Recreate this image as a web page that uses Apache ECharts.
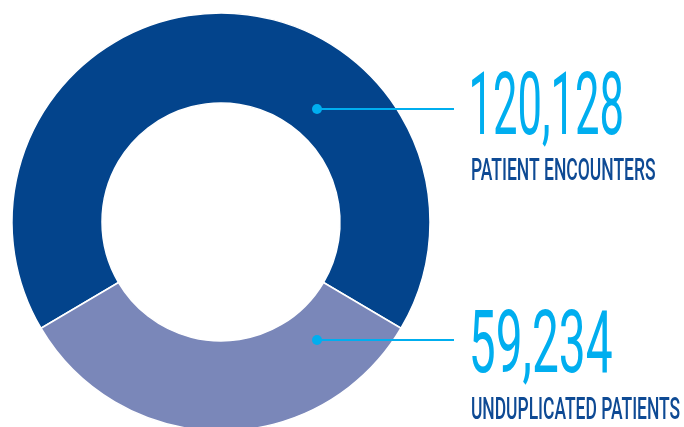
<!DOCTYPE html>
<html>
<head>
<meta charset="utf-8">
<script src="https://cdn.jsdelivr.net/npm/echarts@6/dist/echarts.min.js"></script>
<style>
html,body{margin:0;padding:0;background:#fff;}
#main{width:684px;height:427px;}
</style>
</head>
<body>
<div id="main"></div>
<script>
// ---- data ----
const categories = ['PATIENT ENCOUNTERS', 'UNDUPLICATED PATIENTS'];
const values = [120128, 59234];

// ---- styles ----
const sliceColors = ['#03448C', '#7A87B9'];
const accent = '#00AEEF';
const labelBlue = '#0E4A94';

const total = values.reduce((a, b) => a + b, 0);
// light (second) slice centred at the bottom
const startAngle = 270 - (values[1] / total) * 180;

const cx = 221, cy = 222, rIn = 119, rOut = 209;

function fitText(str, family, weight, left, top, width, capH, color) {
  const c = document.createElement('canvas').getContext('2d');
  c.font = weight + ' 100px ' + family;
  c.textBaseline = 'alphabetic';
  const m = c.measureText(str);
  const size = 100 * capH / m.actualBoundingBoxAscent;
  const font = weight + ' ' + size.toFixed(2) + 'px ' + family;
  c.font = font;
  c.textBaseline = 'middle';
  const m2 = c.measureText(str);
  const sx = width / (m2.actualBoundingBoxLeft + m2.actualBoundingBoxRight);
  return {
    type: 'text',
    x: left + m2.actualBoundingBoxLeft * sx,
    y: top + m2.actualBoundingBoxAscent,
    scaleX: sx,
    z: 100,
    silent: true,
    style: { text: str, font: font, fill: color, align: 'left', verticalAlign: 'middle' }
  };
}

// callout anchor layout (positions only)
const callouts = [
  { dotX: 317, dotY: 109, lineEnd: 454, numTop: 71, numW: 150, subTop: 158, subW: 183 },
  { dotX: 317, dotY: 340, lineEnd: 454, numTop: 309, numW: 140, subTop: 397, subW: 208 }
];

const graphics = [];
values.forEach((v, i) => {
  const c = callouts[i];
  graphics.push({
    type: 'line', silent: true, z: 100,
    shape: { x1: c.dotX, y1: c.dotY, x2: c.lineEnd, y2: c.dotY },
    style: { stroke: accent, lineWidth: 2.2 }
  });
  graphics.push({
    type: 'circle', silent: true, z: 101,
    shape: { cx: c.dotX, cy: c.dotY, r: 5 },
    style: { fill: accent }
  });
  graphics.push(fitText(v.toLocaleString('en-US'), 'Roboto', 'normal', 472, c.numTop, c.numW, 64, accent));
  graphics.push(fitText(categories[i], 'Roboto', '500', 472, c.subTop, c.subW, 23, labelBlue));
});

const chart = echarts.init(document.getElementById('main'), null, { renderer: 'canvas' });
chart.setOption({
  animation: false,
  backgroundColor: '#ffffff',
  series: [{
    type: 'pie',
    center: [cx, cy],
    radius: [rIn, rOut],
    startAngle: startAngle,
    clockwise: true,
    silent: true,
    z: 2,
    label: { show: false },
    labelLine: { show: false },
    itemStyle: { borderColor: '#ffffff', borderWidth: 1.5 },
    data: categories.map((name, i) => ({
      name: name, value: values[i], itemStyle: { color: sliceColors[i] }
    }))
  }],
  graphic: graphics
});
</script>
</body>
</html>
